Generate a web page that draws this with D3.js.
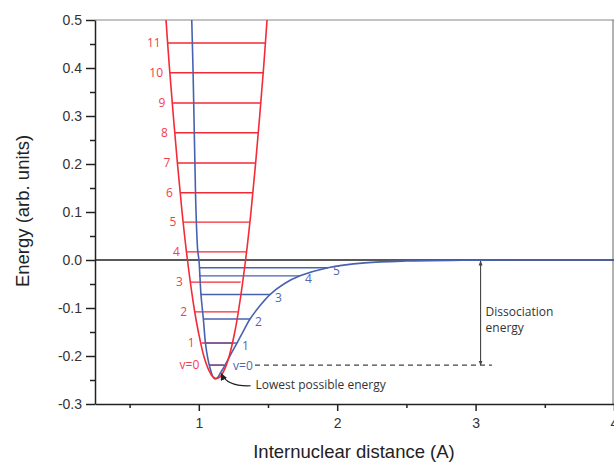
<!DOCTYPE html>
<html lang="en">
  <head>
    <meta charset="utf-8">
    <title>potential wells</title>
    <script src="https://d3js.org/d3.v7.min.js"></script>
    <style type="text/css">
      body { margin: 0; background: #fff; }
      svg { display: block; }
      .tick text {
        font-family: "Liberation Sans", Arial, sans-serif;
        font-size: 14px;
        fill: #333;
      }
      .axis path, .axis line { stroke: #222; }
      .lbl {
        font-family: "Open Sans", sans-serif;
        font-size: 12px;
      }
      .title {
        font-family: "Liberation Sans", Arial, sans-serif;
        font-size: 18.5px;
        fill: #222;
      }
    </style>
  </head>
  <body>
    <svg width="614" height="462"></svg>
    <script type="text/javascript">
      // harmonic well (red)
      var harmX = [0.763, 0.788, 0.816, 0.846, 0.879, 0.918, 0.966, 0.997, 1.036, 1.073, 1.100, 1.128,
                   1.155, 1.183, 1.220, 1.260, 1.290, 1.338, 1.377, 1.410, 1.440, 1.468, 1.493];
      var harmE = [0.5, 0.4, 0.3, 0.2, 0.1, 0.0, -0.1, -0.15, -0.2, -0.23, -0.243, -0.247,
                   -0.243, -0.23, -0.2, -0.15, -0.1, 0.0, 0.1, 0.2, 0.3, 0.4, 0.5];

      // anharmonic (morse like) well (blue)
      var morseX = [0.949, 0.958, 0.965, 0.972, 0.980, 0.992, 1.001, 1.016, 1.033, 1.048, 1.065, 1.081,
                    1.100, 1.117, 1.135, 1.155, 1.190, 1.230, 1.276, 1.322, 1.370, 1.440, 1.514, 1.620,
                    1.731, 1.933, 2.200, 2.500, 2.900, 3.300, 4.000];
      var morseE = [0.5, 0.4, 0.3, 0.2, 0.1, 0.02, 0.0, -0.073, -0.123, -0.173, -0.205, -0.225,
                    -0.242, -0.248, -0.245, -0.236, -0.219, -0.197, -0.173, -0.148, -0.123, -0.096, -0.072, -0.049,
                    -0.033, -0.016, -0.006, -0.002, -0.0005, 0, 0];

      // vibrational levels
      var redLabels = ["v=0", "1", "2", "3", "4", "5", "6", "7", "8", "9", "10", "11"];
      var redE = [-0.219, -0.173, -0.108, -0.046, 0.017, 0.079, 0.140, 0.202, 0.265, 0.327, 0.390, 0.452];
      var redLeft = [1.076, 1.021, 0.967, 0.936, 0.913, 0.888, 0.864, 0.845, 0.828, 0.809, 0.792, 0.775];
      var redRight = [1.182, 1.249, 1.281, 1.303, 1.346, 1.370, 1.389, 1.413, 1.433, 1.449, 1.469, 1.483];

      var blueLabels = ["v=0", "1", "2", "3", "4", "5"];
      var blueE = [-0.219, -0.173, -0.123, -0.072, -0.033, -0.016];
      var blueLeft = [1.074, 1.045, 1.030, 1.012, 1.001, 1.001];
      var blueRight = [1.190, 1.276, 1.370, 1.514, 1.731, 1.933];

      var yTicks = [-0.3, -0.2, -0.1, 0.0, 0.1, 0.2, 0.3, 0.4, 0.5];
      var yMinor = [-0.25, -0.15, -0.05, 0.05, 0.15, 0.25, 0.35, 0.45];
      var xTicks = [1, 2, 3, 4];
      var xMinor = [0.5, 1.5, 2.5, 3.5];

      var red = "#f42a36", blue = "#4862b0";
      var redText = "#f5404c", blueText = "#5068b2";

      var svg = d3.select("svg");
      var x = d3.scaleLinear().domain([0.25, 4]).range([95, 614]);
      var y = d3.scaleLinear().domain([-0.3, 0.5]).range([404, 20]);

      var defs = svg.append("defs");
      defs.append("marker")
        .attr("id", "head")
        .attr("viewBox", "0 0 10 10")
        .attr("refX", 9).attr("refY", 5)
        .attr("markerWidth", 7).attr("markerHeight", 7)
        .attr("markerUnits", "userSpaceOnUse")
        .attr("orient", "auto-start-reverse")
        .append("path").attr("d", "M0,0L10,5L0,10z").attr("fill", "#222");
      defs.append("marker")
        .attr("id", "small")
        .attr("viewBox", "0 0 10 10")
        .attr("refX", 9).attr("refY", 5)
        .attr("markerWidth", 5).attr("markerHeight", 5)
        .attr("markerUnits", "userSpaceOnUse")
        .attr("orient", "auto-start-reverse")
        .append("path").attr("d", "M0,1L10,5L0,9z").attr("fill", "#444");
      defs.append("clipPath").attr("id", "plot")
        .append("rect").attr("x", 95).attr("y", 20).attr("width", 519).attr("height", 384);

      // frame top / right
      svg.append("line").attr("x1", 95).attr("x2", 614).attr("y1", 20).attr("y2", 20)
        .attr("stroke", "#888").attr("stroke-width", 1.2);
      svg.append("line").attr("x1", 613).attr("x2", 613).attr("y1", 20).attr("y2", 404)
        .attr("stroke", "#666").attr("stroke-width", 1);

      // zero line
      svg.append("line").attr("x1", 95).attr("x2", 614).attr("y1", y(0)).attr("y2", y(0))
        .attr("stroke", "#222").attr("stroke-width", 1.3);

      // axes
      var fmt = function(d) { return d.toFixed(1); };
      svg.append("g").attr("class", "axis")
        .attr("transform", "translate(95,0)")
        .call(d3.axisLeft(y).tickValues(yTicks).tickFormat(fmt).tickSize(9).tickSizeOuter(0).tickPadding(4))
        .call(function(g) { g.selectAll("line, path").attr("stroke-width", 1.5); });
      svg.append("g").attr("class", "axis")
        .attr("transform", "translate(95,0)")
        .call(d3.axisLeft(y).tickValues(yMinor).tickFormat("").tickSize(5))
        .call(function(g) { g.select(".domain").remove(); g.selectAll("line").attr("stroke-width", 1.5); });

      svg.append("g").attr("class", "axis")
        .attr("transform", "translate(0,404)")
        .call(d3.axisBottom(x).tickValues(xTicks).tickFormat(d3.format("d"))
          .tickSize(7).tickSizeOuter(0).tickPadding(7))
        .call(function(g) { g.selectAll("line, path").attr("stroke-width", 1.5); });
      svg.append("g").attr("class", "axis")
        .attr("transform", "translate(0,404)")
        .call(d3.axisBottom(x).tickValues(xMinor).tickFormat("").tickSize(4))
        .call(function(g) { g.select(".domain").remove(); g.selectAll("line").attr("stroke-width", 1.5); });

      svg.append("text").attr("class", "title")
        .attr("x", 354).attr("y", 458)
        .attr("text-anchor", "middle")
        .text("Internuclear distance (A)");
      svg.append("text").attr("class", "title")
        .attr("transform", "translate(29,211) rotate(-90)")
        .attr("text-anchor", "middle")
        .text("Energy (arb. units)");

      var plot = svg.append("g").attr("clip-path", "url(#plot)");

      // red levels
      plot.selectAll(".rl").data(redE).enter().append("line")
        .attr("x1", function(d, i) { return x(redLeft[i]); })
        .attr("x2", function(d, i) { return x(redRight[i]); })
        .attr("y1", function(d) { return y(d); })
        .attr("y2", function(d) { return y(d); })
        .attr("stroke", red).attr("stroke-width", 1.4);

      // blue levels
      plot.selectAll(".bl").data(blueE).enter().append("line")
        .attr("x1", function(d, i) { return x(blueLeft[i]); })
        .attr("x2", function(d, i) { return x(blueRight[i]); })
        .attr("y1", function(d) { return y(d); })
        .attr("y2", function(d) { return y(d); })
        .attr("stroke", blue).attr("stroke-width", 1.4);

      var line = d3.line()
        .x(function(d) { return x(d[0]); })
        .y(function(d) { return y(d[1]); })
        .curve(d3.curveCatmullRom.alpha(0.5));

      plot.append("path")
        .datum(d3.zip(morseX, morseE))
        .attr("d", line)
        .attr("fill", "none").attr("stroke", blue).attr("stroke-width", 1.6);

      plot.append("path")
        .datum(d3.zip(harmX, harmE))
        .attr("d", line)
        .attr("fill", "none").attr("stroke", red).attr("stroke-width", 1.6);

      // level labels
      svg.selectAll(".rt").data(redE).enter().append("text")
        .attr("class", "lbl")
        .attr("x", function(d, i) { return x(redLeft[i]) - (i == 0 ? 10 : 7); })
        .attr("y", function(d) { return y(d) + 4; })
        .attr("text-anchor", "end")
        .attr("fill", redText)
        .text(function(d, i) { return redLabels[i]; });

      svg.selectAll(".bt").data(blueE).enter().append("text")
        .attr("class", "lbl")
        .attr("x", function(d, i) { return x(blueRight[i]) + (i == 0 ? 8 : 5); })
        .attr("y", function(d, i) { return y(d) + (i == 0 ? 5 : 7); })
        .attr("fill", blueText)
        .text(function(d, i) { return blueLabels[i]; });

      // dashed ground level to dissociation arrow
      svg.append("line")
        .attr("x1", x(1.406)).attr("x2", x(3.118))
        .attr("y1", y(blueE[0])).attr("y2", y(blueE[0]))
        .attr("stroke", "#444").attr("stroke-width", 1.1)
        .attr("stroke-dasharray", "5,4");

      svg.append("line")
        .attr("x1", x(3.036)).attr("x2", x(3.036))
        .attr("y1", y(0) + 1).attr("y2", y(blueE[0]))
        .attr("stroke", "#444").attr("stroke-width", 1.1)
        .attr("marker-start", "url(#small)")
        .attr("marker-end", "url(#small)");

      svg.append("text").attr("class", "lbl")
        .attr("x", x(3.036) + 5).attr("y", y(-0.117))
        .attr("fill", "#333")
        .text("Dissociation");
      svg.append("text").attr("class", "lbl")
        .attr("x", x(3.036) + 5).attr("y", y(-0.149))
        .attr("fill", "#333")
        .text("energy");

      // lowest energy pointer
      var p0 = [x(1.375), y(-0.262)], p1 = [x(1.205), y(-0.264)], p2 = [x(1.163), y(-0.237)];
      svg.append("path")
        .attr("d", "M" + p0 + "Q" + p1 + " " + p2)
        .attr("fill", "none").attr("stroke", "#222").attr("stroke-width", 1.2)
        .attr("marker-end", "url(#head)");
      svg.append("text").attr("class", "lbl")
        .attr("x", x(1.41)).attr("y", y(-0.269))
        .attr("fill", "#333")
        .text("Lowest possible energy");
    </script>
  </body>
</html>
